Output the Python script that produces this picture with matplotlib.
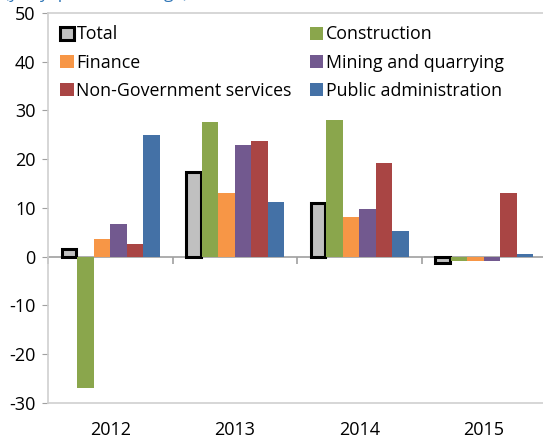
import numpy as np
import matplotlib.pyplot as plt

years = ['2012', '2013', '2014', '2015']
series = ['Total', 'Construction', 'Finance', 'Mining and quarrying',
          'Non-Government services', 'Public administration']

total = [1.6, 17.3, 11.0, -1.2]
construction = [-27.0, 27.6, 28.0, -0.8]
finance = [3.7, 13.1, 8.2, -0.8]
mining = [6.7, 23.0, 9.7, -0.8]
nongov = [2.6, 23.8, 19.2, 13.1]
public = [25.0, 11.3, 5.3, 0.5]

values = [total, construction, finance, mining, nongov, public]
colors = ['#C0C0C0', '#8AA64C', '#F79646', '#72598F', '#A94544', '#4471A6']

plt.rcParams['font.family'] = ['Open Sans', 'DejaVu Sans']
plt.rcParams['axes.unicode_minus'] = False

fig = plt.figure(figsize=(5.43, 4.43), dpi=100)
ax = fig.add_axes([0.0885, 0.0903, 0.917, 0.8804])

x = np.arange(len(years))
w = 0.133
bars = []
for i, (name, vals, c) in enumerate(zip(series, values, colors)):
    off = (i - 2.5) * w
    if name == 'Total':
        b = ax.bar(x + off, vals, w * 0.88, color=c, edgecolor='black',
                   linewidth=2.2, label=name, zorder=3)
    else:
        b = ax.bar(x + off, vals, w, color=c, edgecolor='none', label=name, zorder=3)
    bars.append(b)

ax.set_xlim(-0.5, 3.5)
ax.set_ylim(-30, 50)
ax.set_yticks(range(-30, 51, 10))
ax.set_xticks(x)
ax.set_xticklabels(years)
ax.tick_params(axis='x', length=0, labelsize=13, pad=13)
ax.tick_params(axis='y', length=4, color='#A0A0A0', labelsize=13, pad=5)

for s in ax.spines.values():
    s.set_color('#D0D0D0')
    s.set_linewidth(1.2)
ax.spines['right'].set_visible(False)

# zero axis with category separators
sec = ax.secondary_xaxis(0, transform=ax.transData)
sec.set_xticks([-0.5, 0.5, 1.5, 2.5, 3.5])
sec.set_xticklabels([])
sec.tick_params(length=5, color='#A0A0A0', width=1.2)
sec.spines['bottom'].set_color('#A0A0A0')
sec.spines['bottom'].set_linewidth(1.2)

# legend fills by column, so reorder to match rows
order = [0, 2, 4, 1, 3, 5]
leg = ax.legend([bars[k] for k in order], [series[k] for k in order],
                loc='upper left', ncol=2, frameon=False, fontsize=12.8,
                handlelength=0.75, handleheight=0.75, handletextpad=0.15,
                columnspacing=1.0, labelspacing=0.58, borderaxespad=0.3,
                bbox_to_anchor=(0.0, 1.0))

fig.text(0.008, 1 + 2.5 / 443, '(y-o-y, percent change)', color='#2E75B6',
         fontsize=12.5, va='baseline', ha='left')

fig.savefig('out.png', dpi=100)
